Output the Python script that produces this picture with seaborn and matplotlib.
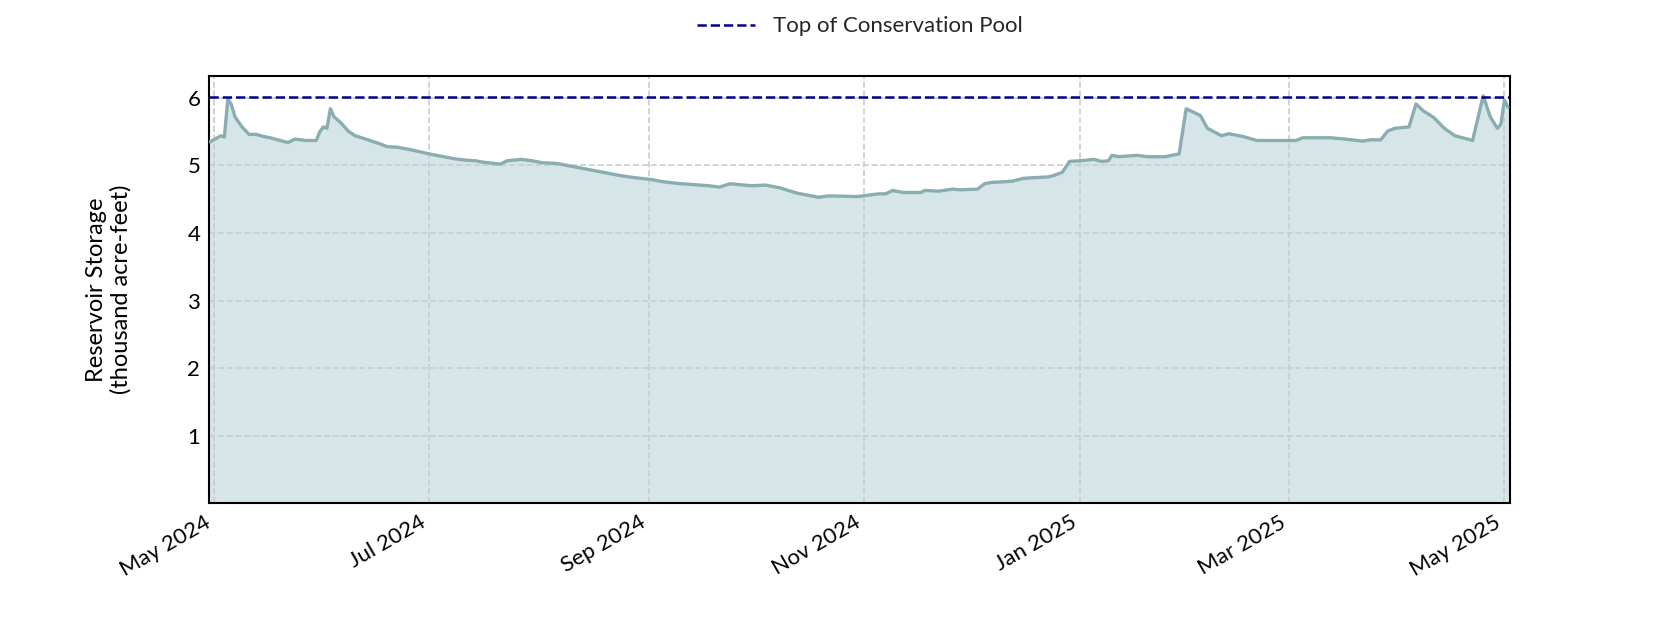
import pandas as pd
import seaborn as sns
import matplotlib.pyplot as plt
import matplotlib.dates as mdates

# storage readings (days after 2024-05-01, thousand acre-feet)
day_offsets = [-1, 1, 2, 3, 4, 5, 6, 8, 10, 12, 14, 16, 18, 21, 23, 26, 29, 30, 31, 32,
               33, 34, 36, 38, 40, 43, 47, 49, 52, 56, 61, 65, 68, 71, 74, 76, 81, 83, 87, 90,
               93, 97, 101, 106, 110, 115, 119, 124, 127, 132, 135, 140, 143, 146, 152, 156, 160, 165, 171, 174,
               182, 185, 188, 190, 192, 195, 200, 201, 205, 209, 211, 216, 218, 220, 224, 226, 229, 232, 236, 238,
               240, 242, 245, 249, 251, 253, 254, 256, 261, 264, 269, 273, 275, 279, 281, 285, 287, 291, 295, 300,
               306, 308, 316, 320, 325, 327, 330, 332, 334, 338, 340, 342, 345, 348, 351, 356, 359, 361, 363, 364,
               365, 366]
storage = [5.35, 5.41, 5.44, 5.42, 5.99, 5.90, 5.72, 5.57, 5.46, 5.46, 5.43, 5.41, 5.38, 5.34, 5.39, 5.37, 5.37, 5.50, 5.57, 5.55,
           5.84, 5.72, 5.63, 5.51, 5.44, 5.39, 5.32, 5.28, 5.27, 5.23, 5.17, 5.13, 5.10, 5.08, 5.07, 5.05, 5.02, 5.07, 5.09, 5.07,
           5.04, 5.03, 4.99, 4.94, 4.90, 4.85, 4.82, 4.79, 4.76, 4.73, 4.72, 4.70, 4.68, 4.73, 4.70, 4.71, 4.67, 4.59, 4.53, 4.55,
           4.54, 4.56, 4.58, 4.58, 4.63, 4.60, 4.60, 4.63, 4.62, 4.65, 4.64, 4.65, 4.73, 4.75, 4.76, 4.77, 4.81, 4.82, 4.83, 4.86,
           4.90, 5.06, 5.07, 5.09, 5.06, 5.07, 5.15, 5.13, 5.15, 5.13, 5.13, 5.17, 5.84, 5.74, 5.55, 5.44, 5.47, 5.43, 5.37, 5.37,
           5.37, 5.41, 5.41, 5.39, 5.36, 5.38, 5.38, 5.51, 5.55, 5.57, 5.91, 5.81, 5.71, 5.55, 5.44, 5.37, 6.03, 5.72, 5.55, 5.61,
           5.97, 5.86]
top_of_conservation = 6.02
y_ticks = [1, 2, 3, 4, 5, 6]

df = pd.DataFrame({
    'date': pd.Timestamp('2024-05-01') + pd.to_timedelta(day_offsets, unit='D'),
    'storage': storage,
})

sns.set_style('white')
plt.rcParams['font.family'] = ['Lato', 'DejaVu Sans']

fig = plt.figure(figsize=(16.8, 6.3), dpi=100)
ax = fig.add_axes([0.1246, 0.201, 0.7744, 0.679])

line_col = '#8aadb2'
ax.fill_between(df['date'], df['storage'], 0, color='#d6e6e8', zorder=0.3)
sns.lineplot(data=df, x='date', y='storage', color=line_col, lw=2.4, ax=ax, zorder=3)
ax.axhline(top_of_conservation, color='#00008b', ls='--', lw=1.8, zorder=4,
           label='Top of Conservation Pool')

ax.set_ylim(0, 6.33)
ax.set_xlim(pd.Timestamp('2024-04-29 18:00'), pd.Timestamp('2025-05-02 16:00'))
ax.set_yticks(y_ticks)
ax.xaxis.set_major_locator(mdates.MonthLocator(bymonth=[1, 3, 5, 7, 9, 11]))
ax.xaxis.set_major_formatter(mdates.DateFormatter('%b %Y'))
ax.set_axisbelow(True)
ax.grid(True, color='#cccccc', ls='--', lw=1.2)

for s in ax.spines.values():
    s.set_color('black')
    s.set_linewidth(1.5)

ax.tick_params(axis='both', labelsize=16, colors='black', pad=3)
plt.setp(ax.get_xticklabels(), rotation=30, ha='right')
ax.set_xlabel('')
ax.set_ylabel('Reservoir Storage\n(thousand acre-feet)', fontsize=17, color='black',
              labelpad=40)

ax.legend(loc='lower center', bbox_to_anchor=(0.5, 1.045), frameon=False, fontsize=16,
          handlelength=2.6)

fig.savefig('out.png', dpi=100)
